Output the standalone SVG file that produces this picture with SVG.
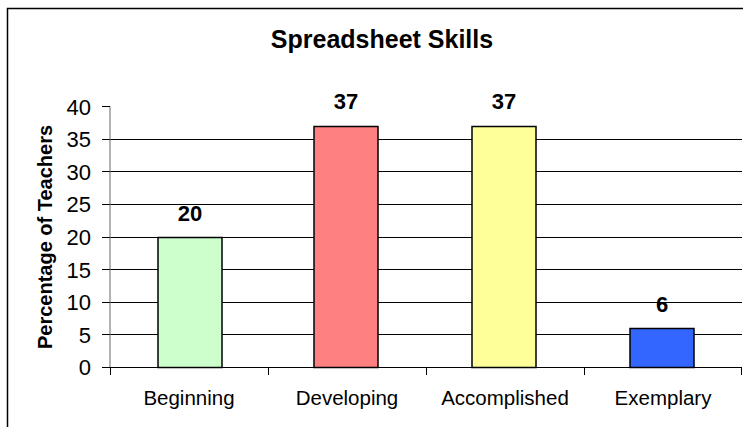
<svg xmlns="http://www.w3.org/2000/svg" width="743" height="427" viewBox="0 0 743 427">
  <style>
    .grid { stroke: #000; stroke-width: 1; }
    .axis { stroke: #808080; stroke-width: 1.2; }
    .tick { stroke: #000; stroke-width: 1; }
    .bar { stroke: #000; stroke-width: 1.5; }
    .ytl { font-family: "Liberation Sans", Arial, sans-serif; font-size: 22px; fill: #000; text-anchor: end; }
    .xtl { font-family: "Liberation Sans", Arial, sans-serif; font-size: 20.5px; fill: #000; text-anchor: middle; }
    .val { font-family: "Liberation Sans", Arial, sans-serif; font-size: 22px; font-weight: bold; fill: #000; text-anchor: middle; }
    .title { font-family: "Liberation Sans", Arial, sans-serif; font-size: 25px; font-weight: bold; fill: #000; text-anchor: middle; }
  </style>
  <rect x="0" y="0" width="743" height="427" fill="#fff"/>
  <rect id="frame" x="7.5" y="8.5" width="760" height="440" fill="none" stroke="#000" stroke-width="1.5"/>
  <text id="title" class="title" x="382" y="48">Spreadsheet Skills</text>

  <g id="gridlines">
    <line class="grid" x1="110" y1="334.5" x2="742" y2="334.5"/>
    <line class="grid" x1="110" y1="302.5" x2="742" y2="302.5"/>
    <line class="grid" x1="110" y1="269.5" x2="742" y2="269.5"/>
    <line class="grid" x1="110" y1="237.5" x2="742" y2="237.5"/>
    <line class="grid" x1="110" y1="204.5" x2="742" y2="204.5"/>
    <line class="grid" x1="110" y1="171.5" x2="742" y2="171.5"/>
    <line class="grid" x1="110" y1="139.5" x2="742" y2="139.5"/>
  </g>

  <g id="y-axis">
    <line class="axis" x1="110" y1="106.5" x2="110" y2="367.5"/>
    <line class="tick" x1="102" y1="106.5" x2="110" y2="106.5"/>
    <line class="tick" x1="102" y1="139.5" x2="110" y2="139.5"/>
    <line class="tick" x1="102" y1="171.5" x2="110" y2="171.5"/>
    <line class="tick" x1="102" y1="204.5" x2="110" y2="204.5"/>
    <line class="tick" x1="102" y1="237.5" x2="110" y2="237.5"/>
    <line class="tick" x1="102" y1="269.5" x2="110" y2="269.5"/>
    <line class="tick" x1="102" y1="302.5" x2="110" y2="302.5"/>
    <line class="tick" x1="102" y1="334.5" x2="110" y2="334.5"/>
    <line class="tick" x1="102" y1="367.5" x2="110" y2="367.5"/>
    <text class="ytl" x="91" y="115">40</text>
    <text class="ytl" x="91" y="147">35</text>
    <text class="ytl" x="91" y="180">30</text>
    <text class="ytl" x="91" y="212">25</text>
    <text class="ytl" x="91" y="245">20</text>
    <text class="ytl" x="91" y="278">15</text>
    <text class="ytl" x="91" y="310">10</text>
    <text class="ytl" x="91" y="343">5</text>
    <text class="ytl" x="91" y="375">0</text>
    <text x="52" y="237" transform="rotate(-90 52 237)" font-family="Liberation Sans, Arial, sans-serif" font-size="20" font-weight="bold" text-anchor="middle" fill="#000">Percentage of Teachers</text>
  </g>

  <g id="bar-beginning">
    <rect class="bar" x="158" y="237.5" width="64" height="130" fill="#CCFFCC"/>
    <text class="val" x="190" y="221">20</text>
    <text class="xtl" x="189" y="405">Beginning</text>
  </g>
  <g id="bar-developing">
    <rect class="bar" x="314" y="126.5" width="64" height="241" fill="#FF8080"/>
    <text class="val" x="346" y="109">37</text>
    <text class="xtl" x="347" y="405">Developing</text>
  </g>
  <g id="bar-accomplished">
    <rect class="bar" x="472" y="126.5" width="64" height="241" fill="#FFFF99"/>
    <text class="val" x="504" y="109">37</text>
    <text class="xtl" x="505" y="405">Accomplished</text>
  </g>
  <g id="bar-exemplary">
    <rect class="bar" x="630" y="328.5" width="64" height="39" fill="#3366FF"/>
    <text class="val" x="662" y="312">6</text>
    <text class="xtl" x="663" y="405">Exemplary</text>
  </g>

  <g id="x-axis">
    <line class="tick" x1="110" y1="367.5" x2="742" y2="367.5" stroke-width="1.2"/>
    <line class="tick" x1="110.5" y1="367" x2="110.5" y2="375"/>
    <line class="tick" x1="268.5" y1="367" x2="268.5" y2="375"/>
    <line class="tick" x1="426.5" y1="367" x2="426.5" y2="375"/>
    <line class="tick" x1="584.5" y1="367" x2="584.5" y2="375"/>
    <line class="tick" x1="741.5" y1="367" x2="741.5" y2="375"/>
  </g>
</svg>
